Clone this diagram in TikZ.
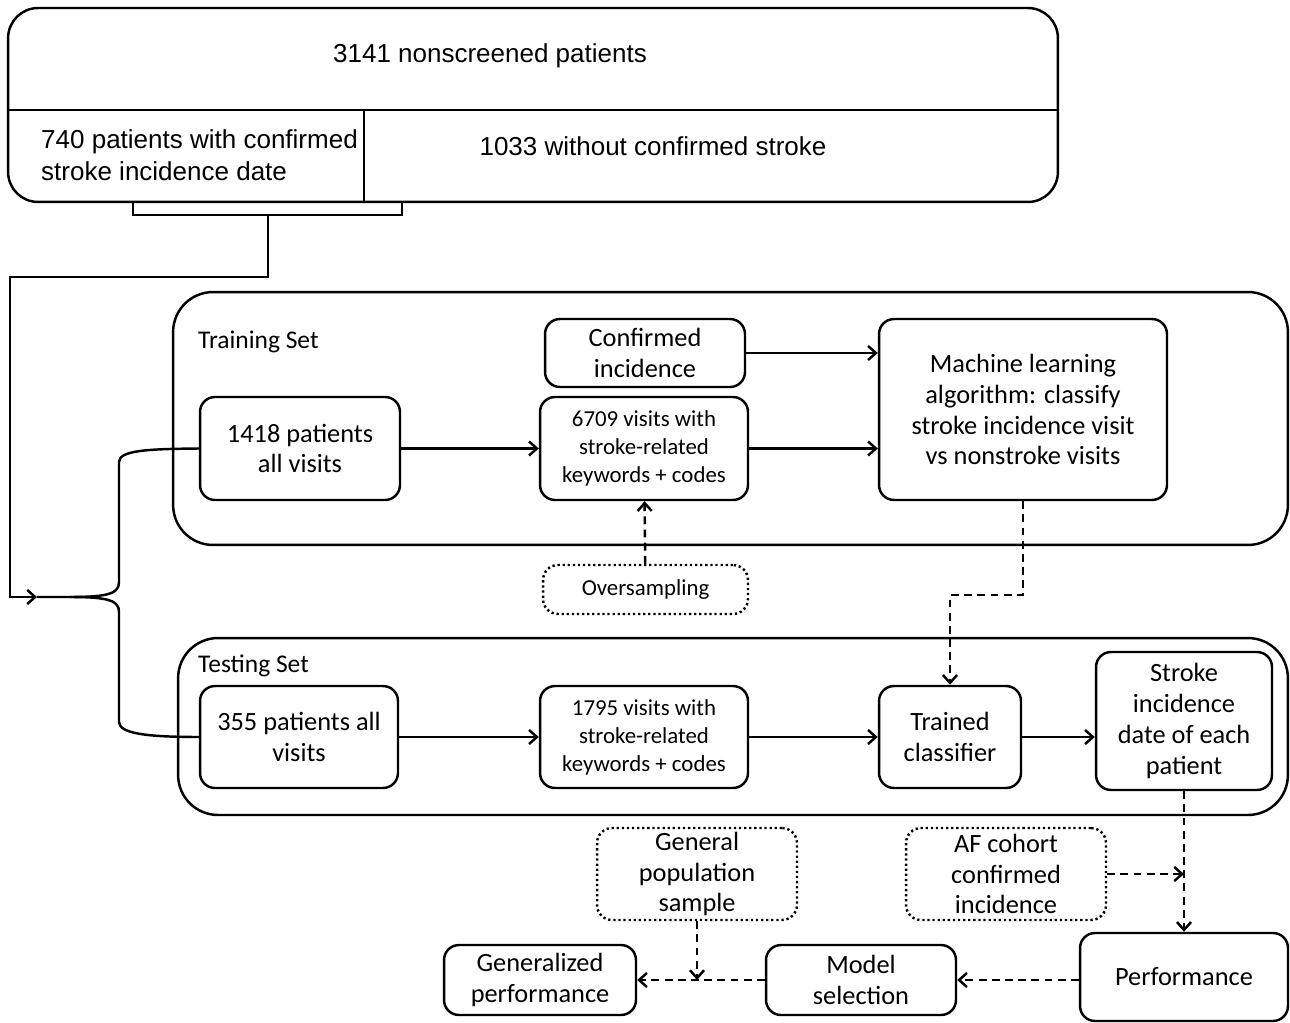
\documentclass[tikz,border=0pt]{standalone}
\usepackage{fontspec}
\setmainfont{Carlito}
\newfontfamily\arialf{Liberation Sans}
\usetikzlibrary{arrows,arrows.meta,positioning,calc}

\begin{document}
\begin{tikzpicture}[
    x=0.02cm,
    y=-0.02cm,
    line width=1.4pt,
    >={Straight Barb[length=4.5pt,width=8pt]},
    box/.style ={
        draw,
        rounded corners=0.3cm,
        align=center,
        inner sep=2pt,
        font=\fontsize{15}{17.6}\selectfont
    },
    small/.style ={font=\fontsize{13}{15.9}\selectfont},
    dbox/.style ={box, dash pattern=on 1.3pt off 1.6pt},
    group/.style ={draw, rounded corners=0.8cm},
    lbl/.style ={anchor=west, inner sep=0pt, font=\fontsize{14.5}{17}\selectfont},
    top/.style ={font=\arialf\fontsize{14.8}{18}\selectfont, inner sep=0pt},
    dsh/.style ={dash pattern=on 4.5pt off 3pt}
    ]
    \useasboundingbox (0,0) rectangle (1290,1023);

    % patient pool
    \node[draw, rounded corners=0.6cm, minimum width=21cm, minimum height=3.88cm] (pool) at (533,105) {};
    \draw (pool.west |- 0,110) -- (pool.east |- 0,110);
    \draw (364,110) -- (364,0 |- pool.south);
    \node[top] (n3141) at (490,56) {3141 nonscreened patients};
    \node[top, anchor=west, align=left] (n740) at (40,155) {740 patients with confirmed\\stroke incidence date};
    \node[top] (n1033) at (653,146) {1033 without confirmed stroke};
    \draw (133,202) |- (402,215) -- (402,202);
    \coordinate (brk) at (268,215);
    \coordinate (fork) at (37,597);

    % groups
    \node[group, minimum width=22.3cm, minimum height=5.06cm] (train) at (730.5,418.5) {};
    \node[group, minimum width=22.2cm, minimum height=3.54cm] (test) at (733,726.5) {};
    \node[lbl] (trainlbl) at (197,342) {Training Set};
    \node[lbl] (testlbl) at (197,666) {Testing Set};

    % training set
    \node[box, minimum width=4cm, minimum height=1.36cm] (conf) at (645,353) {Confirmed\\incidence};
    \node[box, minimum width=4cm, minimum height=2.06cm] (p1418) at (300,448.5) {1418 patients\\all visits};
    \node[box, small, minimum width=4.16cm, minimum height=2.06cm] (v6709) at (644,448.5) {6709 visits with\\stroke-related\\keywords + codes};
    \node[box, minimum width=5.76cm, minimum height=3.62cm] (ml) at (1023,409.5) {Machine learning\\algorithm: classify\\stroke incidence visit\\vs nonstroke visits};
    \node[dbox, small, minimum width=4.1cm, minimum height=0.98cm] (over) at (645.5,589.5) {Oversampling};

    % testing set
    \node[box, minimum width=3.96cm, minimum height=2.04cm] (p355) at (299,737) {355 patients all\\visits};
    \node[box, small, minimum width=4.16cm, minimum height=2.04cm] (v1795) at (644,737) {1795 visits with\\stroke-related\\keywords + codes};
    \node[box, minimum width=2.84cm, minimum height=2.04cm] (tc) at (950,737) {Trained\\classifier};
    \node[box, minimum width=3.52cm, minimum height=2.76cm] (sid) at (1184,721) {Stroke\\incidence\\date of each\\patient};

    % evaluation
    \node[dbox, minimum width=4cm, minimum height=1.84cm] (af) at (1006,874) {AF cohort\\confirmed\\incidence};
    \node[dbox, minimum width=4cm, minimum height=1.84cm] (gps) at (697,874) {General\\population\\sample};
    \node[box, minimum width=4.16cm, minimum height=1.76cm] (perf) at (1184,977) {Performance};
    \node[box, minimum width=3.8cm, minimum height=1.4cm] (ms) at (861,980) {Model\\selection};
    \node[box, minimum width=3.84cm, minimum height=1.4cm] (gp) at (540,980) {Generalized\\performance};

    % split
    \draw[->] (brk) -- (268,277) -| (10,597) -- (fork);
    \draw (fork) -- (70,597) .. controls (110,597) and (119,593) .. (119,582) -- (119,462)
        .. controls (119,450) and (150,449) .. (p1418.west);
    \draw (70,597) .. controls (110,597) and (119,601) .. (119,612) -- (119,722)
        .. controls (119,734) and (150,737) .. (p355.west);

    % flows
    \draw[->] (p1418) -- (v6709);
    \draw[->] (v6709.east) -- (ml.west |- v6709.east);
    \draw[->] (conf.east) -- (ml.west |- conf.east);
    \draw[->,dsh] (over) -- (v6709);
    \draw[->,dsh] (ml.south) -- ++(0,94) -| (tc.north);
    \draw[->] (p355) -- (v1795);
    \draw[->] (v1795) -- (tc);
    \draw[->] (tc.east) -- (sid.west |- tc.east);
    \draw[->,dsh] (sid.south) -- (perf.north);
    \draw[->,dsh] (af.east) -- (sid.south |- af.east);
    \draw[->,dsh] (perf.west |- ms.east) -- (ms.east);
    \draw[->,dsh] (ms.west) -- (gp.east);
    \draw[->,dsh] (gps.south) -- (gps.south |- gp.east);
\end{tikzpicture}
\end{document}
